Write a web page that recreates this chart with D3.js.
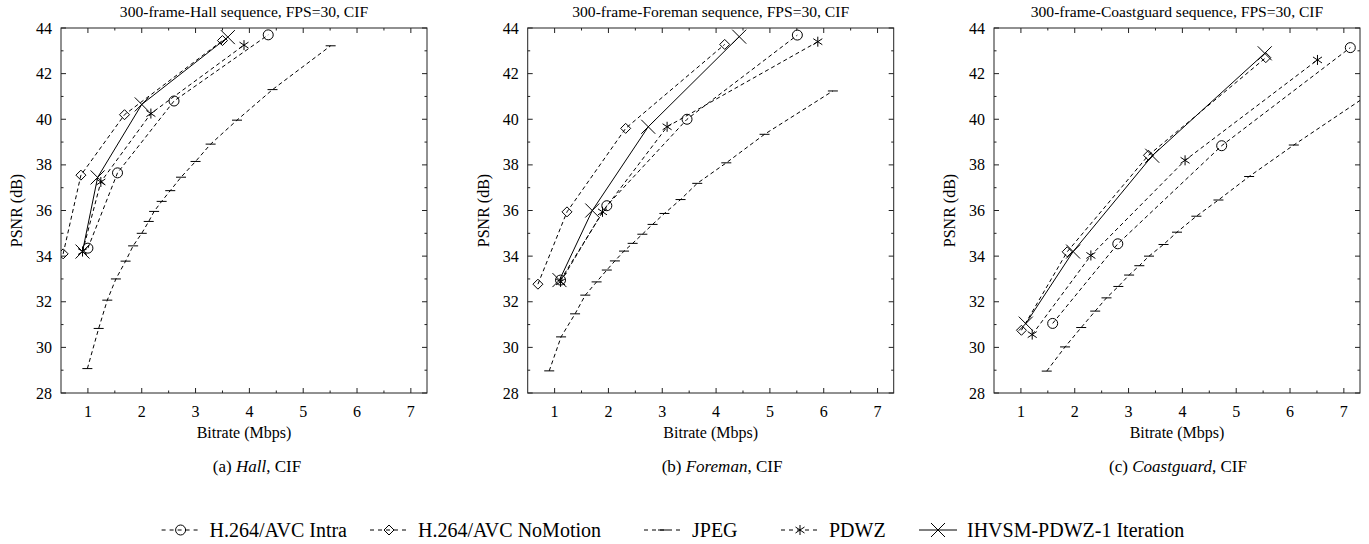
<!DOCTYPE html>
<html>
<head>
<meta charset="utf-8">
<script src="https://cdn.jsdelivr.net/npm/d3@7"></script>
<style>
  body { margin: 0; background: #fff; }
  svg { font-family: "Liberation Serif", "DejaVu Serif", serif; }
  .frame { fill: none; stroke: #222; stroke-width: 1; }
  .series { fill: none; stroke: #000; stroke-width: 1; }
</style>
</head>
<body>
<div id="chart"></div>
<script>
// ---- data (bitrate Mbps, PSNR dB) ----
var xTicks = [1, 2, 3, 4, 5, 6, 7];
var yTicks = [28, 30, 32, 34, 36, 38, 40, 42, 44];

var hallIntra    = [[1.0,34.35],[1.55,37.65],[2.6,40.8],[4.35,43.7]];
var hallNoMotion = [[0.54,34.1],[0.87,37.55],[1.68,40.2],[3.5,43.45]];
var hallJpeg     = [[0.99,29.07],[1.2,30.83],[1.36,32.07],[1.52,33.0],[1.7,33.78],[1.84,34.45],[2.0,35.0],[2.13,35.52],[2.23,35.96],[2.37,36.4],[2.53,36.87],[2.73,37.46],[3.0,38.15],[3.28,38.91],[3.77,39.96],[4.43,41.3],[5.51,43.22]];
var hallPdwz     = [[0.9,34.2],[1.24,37.25],[2.17,40.25],[3.9,43.25]];
var hallIhvsm    = [[0.9,34.2],[1.18,37.45],[2.0,40.65],[3.6,43.6]];

var foreIntra    = [[1.11,32.95],[1.97,36.21],[3.46,40.0],[5.51,43.69]];
var foreNoMotion = [[0.69,32.77],[1.23,35.94],[2.32,39.6],[4.16,43.28]];
var foreJpeg     = [[0.9,28.97],[1.12,30.46],[1.38,31.47],[1.57,32.29],[1.78,32.87],[1.97,33.39],[2.12,33.79],[2.29,34.22],[2.45,34.56],[2.63,34.96],[2.82,35.39],[3.04,35.87],[3.34,36.48],[3.65,37.19],[4.19,38.09],[4.9,39.34],[6.17,41.24]];
var forePdwz     = [[1.11,32.87],[1.89,35.94],[3.09,39.67],[5.89,43.4]];
var foreIhvsm    = [[1.09,32.95],[1.7,36.0],[2.74,39.67],[4.43,43.62]];

var coastIntra    = [[1.59,31.05],[2.8,34.54],[4.73,38.84],[7.12,43.14]];
var coastNoMotion = [[1.01,30.75],[1.86,34.19],[3.37,38.42],[5.55,42.7]];
var coastJpeg     = [[1.48,28.96],[1.82,30.02],[2.12,30.87],[2.38,31.59],[2.59,32.17],[2.81,32.67],[3.01,33.17],[3.2,33.58],[3.38,34.0],[3.65,34.51],[3.9,35.05],[4.26,35.75],[4.67,36.46],[5.24,37.49],[6.07,38.87],[7.6,41.3]];
var coastPdwz     = [[1.21,30.56],[2.3,34.03],[4.05,38.2],[6.51,42.6]];
var coastIhvsm    = [[1.09,31.04],[1.97,34.2],[3.44,38.4],[5.53,42.89]];

var seriesNames = ["H.264/AVC Intra", "H.264/AVC NoMotion", "JPEG", "PDWZ", "IHVSM-PDWZ-1 Iteration"];
var seriesMarks = ["circle", "diamond", "minus", "star", "cross"];
var seriesDashed = [true, true, true, true, false];

var panels = [
  { title: "300-frame-Hall sequence, FPS=30, CIF", tag: "(a) ", name: "Hall", left: 61, capX: 257,
    data: [hallIntra, hallNoMotion, hallJpeg, hallPdwz, hallIhvsm] },
  { title: "300-frame-Foreman sequence, FPS=30, CIF", tag: "(b) ", name: "Foreman", left: 527.7, capX: 722,
    data: [foreIntra, foreNoMotion, foreJpeg, forePdwz, foreIhvsm] },
  { title: "300-frame-Coastguard sequence, FPS=30, CIF", tag: "(c) ", name: "Coastguard", left: 994, capX: 1178,
    data: [coastIntra, coastNoMotion, coastJpeg, coastPdwz, coastIhvsm] }
];

var W = 1369, H = 544;
var plotW = 366, plotH = 365, plotTop = 28;

var svg = d3.select("#chart").append("svg")
    .attr("width", W).attr("height", H);

// draws a point marker centred at 0,0 inside g
function drawMark(g, type) {
  if (type == "circle") {
    g.append("circle").attr("r", 5).attr("class", "series");
  } else if (type == "diamond") {
    g.append("path").attr("d", "M0,-5L5,0L0,5L-5,0Z").attr("class", "series");
  } else if (type == "minus") {
    g.append("path").attr("d", "M-5,0H5").attr("class", "series");
  } else if (type == "star") {
    g.append("path").attr("d", "M0,-5V5M-4.5,-3L4.5,3M-4.5,3L4.5,-3").attr("class", "series");
  } else if (type == "cross") {
    g.append("path").attr("d", "M-7,-7L7,7M-7,7L7,-7").attr("class", "series");
  }
}

panels.forEach(function(p, pi) {
  var x = d3.scaleLinear().domain([0.5, 7.3]).range([0, plotW]);
  var y = d3.scaleLinear().domain([28, 44]).range([plotH, 0]);

  var g = svg.append("g").attr("transform", "translate(" + p.left + "," + plotTop + ")");

  // ticks, inward, on all four sides
  var xMinor = d3.range(1.5, 7.3, 1);
  var yMinor = d3.range(29, 44, 2);
  var ticks = g.append("g").attr("stroke", "#222").attr("stroke-width", 1);
  xTicks.forEach(function(v) {
    ticks.append("line").attr("x1", x(v)).attr("x2", x(v)).attr("y1", plotH).attr("y2", plotH - 5);
    ticks.append("line").attr("x1", x(v)).attr("x2", x(v)).attr("y1", 0).attr("y2", 5);
  });
  xMinor.forEach(function(v) {
    ticks.append("line").attr("x1", x(v)).attr("x2", x(v)).attr("y1", plotH).attr("y2", plotH - 2.5);
    ticks.append("line").attr("x1", x(v)).attr("x2", x(v)).attr("y1", 0).attr("y2", 2.5);
  });
  yTicks.forEach(function(v) {
    ticks.append("line").attr("y1", y(v)).attr("y2", y(v)).attr("x1", 0).attr("x2", 5);
    ticks.append("line").attr("y1", y(v)).attr("y2", y(v)).attr("x1", plotW).attr("x2", plotW - 5);
  });
  yMinor.forEach(function(v) {
    ticks.append("line").attr("y1", y(v)).attr("y2", y(v)).attr("x1", 0).attr("x2", 2.5);
    ticks.append("line").attr("y1", y(v)).attr("y2", y(v)).attr("x1", plotW).attr("x2", plotW - 2.5);
  });

  g.append("rect").attr("class", "frame").attr("width", plotW).attr("height", plotH);

  // tick labels
  g.selectAll(".xl").data(xTicks).enter().append("text")
      .attr("x", function(d) { return x(d); }).attr("y", plotH + 24)
      .attr("text-anchor", "middle").style("font-size", "16px").text(function(d) { return d; });
  g.selectAll(".yl").data(yTicks).enter().append("text")
      .attr("x", -9).attr("y", function(d) { return y(d) + 5.5; })
      .attr("text-anchor", "end").style("font-size", "16px").text(function(d) { return d; });

  // titles and axis labels
  g.append("text").attr("x", plotW / 2).attr("y", -11).attr("text-anchor", "middle")
      .style("font-size", "15.6px").text(p.title);
  g.append("text").attr("x", plotW / 2).attr("y", plotH + 45).attr("text-anchor", "middle")
      .style("font-size", "16px").text("Bitrate (Mbps)");
  g.append("text").attr("transform", "translate(-39," + (plotH / 2) + ") rotate(-90)")
      .attr("text-anchor", "middle").style("font-size", "16px").text("PSNR (dB)");

  // clip to plot area
  var clipId = "clip" + pi;
  g.append("clipPath").attr("id", clipId).append("rect").attr("width", plotW).attr("height", plotH);
  var area = g.append("g").attr("clip-path", "url(#" + clipId + ")");

  var line = d3.line().x(function(d) { return x(d[0]); }).y(function(d) { return y(d[1]); });

  p.data.forEach(function(pts, si) {
    area.append("path").datum(pts).attr("class", "series")
        .attr("stroke-dasharray", seriesDashed[si] ? "4,3" : null)
        .attr("d", line);
    pts.forEach(function(d) {
      var m = area.append("g").attr("transform", "translate(" + x(d[0]) + "," + y(d[1]) + ")");
      drawMark(m, seriesMarks[si]);
    });
  });

  // caption
  var cap = svg.append("text").attr("x", p.capX).attr("y", 472).attr("text-anchor", "middle")
      .style("font-size", "17px");
  cap.append("tspan").text(p.tag);
  cap.append("tspan").style("font-style", "italic").text(p.name);
  cap.append("tspan").text(", CIF");
});

// legend
var legendTextX = [347, 418, 692, 829, 967];
var leg = svg.append("g");
seriesNames.forEach(function(name, i) {
  var t = leg.append("text").attr("y", 537).style("font-size", "20px").text(name);
  var tx = legendTextX[i];
  if (i == 0) {
    t.attr("x", tx).attr("text-anchor", "end");
    tx = tx - t.node().getComputedTextLength();
  } else {
    t.attr("x", tx);
  }
  var s0 = tx - 48, s1 = tx - 10, yy = 530;
  leg.append("line").attr("class", "series").attr("x1", s0).attr("x2", s1)
      .attr("y1", yy).attr("y2", yy)
      .attr("stroke-dasharray", seriesDashed[i] ? "4,4" : null);
  var m = leg.append("g").attr("transform", "translate(" + ((s0 + s1) / 2) + "," + yy + ")");
  drawMark(m, seriesMarks[i]);
});
</script>
</body>
</html>
